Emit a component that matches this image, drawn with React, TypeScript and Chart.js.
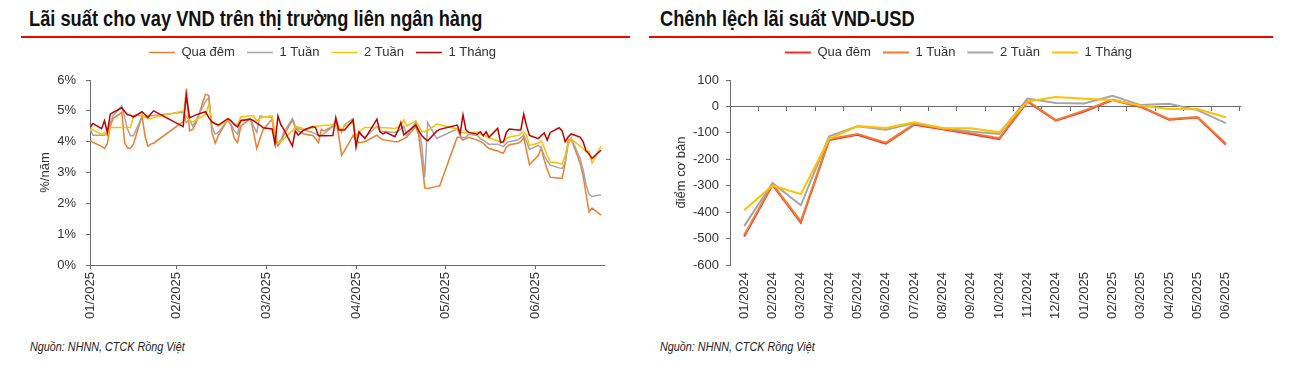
import React, { useEffect, useRef } from "react";
import { Chart, registerables } from "chart.js";

Chart.register(...registerables);

const FONT = "'Liberation Sans', Arial, Helvetica, sans-serif";
const TEXT = "#333333";
const AXIS = "#6b6b6b";

Chart.defaults.font.family = FONT;
Chart.defaults.font.size = 13;
Chart.defaults.color = TEXT;

// ---------- Left chart: interbank VND rates (2025, dd/mm) ----------
const tradingDays = [
  "02/01", "03/01", "06/01", "07/01", "08/01", "09/01", "10/01", "13/01", "14/01", "15/01", "16/01", "17/01", "20/01", "21/01", "22/01", "23/01", "24/01",
  "03/02", "04/02", "05/02", "06/02", "07/02", "10/02", "11/02", "12/02", "13/02", "14/02", "17/02", "18/02", "19/02", "20/02", "21/02", "24/02", "25/02", "26/02", "27/02", "28/02",
  "03/03", "04/03", "05/03", "06/03", "07/03", "10/03", "11/03", "12/03", "13/03", "14/03", "17/03", "18/03", "19/03", "20/03", "21/03", "24/03", "25/03", "26/03", "27/03", "28/03", "31/03",
  "01/04", "02/04", "03/04", "04/04", "08/04", "09/04", "10/04", "11/04", "14/04", "15/04", "16/04", "17/04", "18/04", "21/04", "22/04", "23/04", "24/04", "25/04", "28/04", "29/04",
  "05/05", "06/05", "07/05", "08/05", "09/05", "12/05", "13/05", "14/05", "15/05", "16/05", "19/05", "20/05", "21/05", "22/05", "23/05", "26/05", "27/05", "28/05", "29/05", "30/05",
  "02/06", "03/06", "04/06", "05/06", "06/06", "09/06", "10/06", "11/06", "12/06", "13/06", "16/06", "17/06", "18/06", "19/06", "20/06", "23/06",
];

const overnightRate = [
  4.03, 3.98, 3.85, 3.78, 3.94, 4.5, 4.75, 4.95, 3.95, 3.8, 3.78, 3.92, 4.84, 4.2, 3.85, 3.92, 3.95,
  4.65, 5.72, 4.35, 4.4, 4.6, 5.54, 5.5, 4.3, 3.95, 4.2, 4.73, 4.5, 4.1, 3.97, 4.5, 4.75, 4.3, 3.78, 4.1, 4.4,
  4.73, 4.1, 3.86, 4.0, 4.2, 4.7, 4.45, 4.35, 4.3, 4.25, 4.2, 4.1, 3.97, 4.4, 4.35, 4.5, 4.68, 4.2, 3.56, 3.7, 4.2,
  4.05, 3.97, 3.98, 4.0, 4.21, 4.12, 4.06, 4.05, 4.0, 4.0, 4.05, 4.1, 4.15, 4.5, 4.19, 3.4, 2.5, 2.48, 2.55, 2.57,
  4.14, 4.14, 4.05, 4.1, 4.14, 4.05, 4.0, 3.95, 3.85, 3.78, 3.7, 3.65, 3.63, 3.82, 3.9, 3.95, 4.0, 4.14, 3.7, 3.25,
  3.55, 3.8, 3.4, 3.1, 2.85, 2.81, 2.81, 3.3, 4.05, 4.1, 3.3, 2.9, 2.3, 1.72, 1.85, 1.62,
];

const oneWeekRate = [
  4.41, 4.21, 4.21, 4.21, 4.3, 4.6, 4.84, 5.16, 4.78, 4.4, 4.19, 4.19, 4.81, 4.82, 4.83, 4.84, 4.85,
  4.95, 4.62, 4.73, 4.5, 4.7, 5.3, 5.43, 4.5, 4.25, 4.3, 4.71, 4.55, 4.35, 4.24, 4.7, 4.75, 4.5, 4.3, 4.84, 4.82,
  4.78, 4.1, 3.97, 4.05, 4.3, 4.75, 4.5, 4.42, 4.4, 4.38, 4.3, 4.25, 4.2, 4.22, 4.26, 4.5, 4.68, 4.5, 4.3, 4.55, 4.75,
  3.97, 4.3, 4.2, 4.14, 4.5, 4.35, 4.33, 4.32, 4.3, 4.35, 4.4, 4.51, 4.19, 4.64, 4.35, 3.9, 2.84, 4.62, 4.1, 4.15,
  4.41, 4.2, 4.12, 4.15, 4.24, 4.2, 4.1, 4.05, 3.98, 3.92, 3.92, 3.88, 3.84, 3.95, 4.0, 4.06, 4.12, 4.22, 4.0, 3.75,
  3.88, 3.8, 3.55, 3.38, 3.24, 3.15, 3.13, 3.32, 3.9, 4.12, 3.45, 3.1, 2.6, 2.3, 2.22, 2.28,
];

const twoWeekRate = [
  4.48, 4.38, 4.24, 4.3, 4.19, 4.46, 4.46, 4.46, 4.46, 4.46, 4.46, 4.84, 4.86, 4.8, 4.76, 4.75, 4.78,
  5.0, 4.8, 4.7, 4.64, 4.7, 4.89, 5.2, 4.64, 4.6, 4.51, 4.71, 4.65, 4.58, 4.54, 4.8, 4.84, 4.84, 4.68, 4.75, 4.8,
  4.84, 4.3, 3.97, 4.0, 4.1, 4.35, 4.5, 4.48, 4.45, 4.4, 4.45, 4.5, 4.51, 4.52, 4.53, 4.55, 4.51, 4.45, 4.41, 4.5, 4.62,
  4.19, 4.3, 4.4, 4.46, 4.46, 4.46, 4.45, 4.45, 4.43, 4.47, 4.55, 4.71, 4.51, 4.68, 4.5, 4.33, 4.33, 4.36, 4.57, 4.55,
  4.41, 4.3, 4.3, 4.3, 4.3, 4.3, 4.25, 4.2, 4.18, 4.12, 4.03, 4.0, 3.98, 4.1, 4.15, 4.2, 4.25, 4.32, 4.2, 3.88,
  3.95, 4.03, 3.8, 3.55, 3.35, 3.3, 3.27, 3.55, 3.95, 4.1, 3.85, 3.78, 3.68, 3.7, 3.3, 3.86,
];

const oneMonthRate = [
  4.46, 4.59, 4.42, 4.68, 4.3, 4.89, 4.95, 5.1, 4.98, 4.87, 4.86, 4.8, 4.97, 4.88, 4.78, 4.9, 5.0,
  4.49, 5.49, 4.78, 4.82, 4.87, 4.97, 4.78, 4.64, 4.58, 4.54, 4.75, 4.68, 4.55, 4.48, 4.68, 4.73, 4.68, 4.6, 4.54, 4.45,
  4.41, 3.92, 4.84, 4.55, 4.4, 3.86, 4.35, 4.21, 4.3, 4.38, 4.49, 4.46, 4.19, 4.19, 4.19, 4.2, 4.78, 4.38, 4.38, 4.38, 4.7,
  3.82, 4.32, 4.2, 4.1, 4.73, 4.32, 4.25, 4.3, 4.16, 4.35, 4.62, 4.22, 4.3, 4.54, 4.35, 4.2, 4.1, 4.03, 4.34, 4.4,
  4.54, 4.27, 4.87, 4.38, 4.3, 4.24, 4.32, 4.19, 4.32, 4.14, 4.43, 3.97, 4.0, 4.3, 4.41, 4.38, 4.38, 4.89, 4.5, 4.2,
  4.1, 4.2, 4.28, 4.05, 4.3, 4.45, 4.35, 4.0, 4.15, 4.25, 4.15, 4.0, 3.7, 3.6, 3.46, 3.72,
];

const monthTickLabels = ["01/2025", "02/2025", "03/2025", "04/2025", "05/2025", "06/2025"];
const rateTickLabels = ["0%", "1%", "2%", "3%", "4%", "5%", "6%"];

// ---------- Right chart: VND-USD spread (basis points) ----------
const spreadMonths = [
  "01/2024", "02/2024", "03/2024", "04/2024", "05/2024", "06/2024", "07/2024", "08/2024", "09/2024",
  "10/2024", "11/2024", "12/2024", "01/2025", "02/2025", "03/2025", "04/2025", "05/2025", "06/2025",
];
const spreadOvernight = [-492, -297, -440, -127, -107, -141, -69, -86, -104, -124, 18, -54, -19, 24, -2, -50, -42, -144];
const spreadOneWeek = [-487, -294, -435, -124, -104, -137, -67, -84, -101, -120, 21, -52, -16, 26, 0, -48, -40, -140];
const spreadTwoWeek = [-453, -290, -374, -113, -75, -88, -63, -83, -95, -104, 30, 13, 11, 40, 5, 10, -14, -63];
const spreadOneMonth = [-393, -299, -332, -123, -74, -82, -60, -82, -83, -98, 19, 36, 29, 24, 3, -10, -10, -41];

const DAYS_IN_MONTH = [31, 28, 31, 30, 31, 30, 31, 31, 30, 31, 30, 31];
function dayToX(s: string): number {
  const [d, m] = s.split("/").map(Number);
  return m - 1 + (d - 1) / DAYS_IN_MONTH[m - 1];
}

// Adds room below the legend and nudges it sideways to sit like the original.
function makeLegendTweak(shiftX: number) {
  return {
    id: "legendTweak",
    beforeUpdate(chart: any) {
      const lg = chart.legend;
      if (lg && !lg.__gapPatched) {
        const fit = lg.fit;
        lg.fit = function () {
          fit.call(this);
          this.height += 11;
        };
        lg.__gapPatched = true;
      }
    },
    afterLayout(chart: any) {
      const lg = chart.legend;
      if (lg) {
        lg.left += shiftX;
        lg.right += shiftX;
      }
    },
  };
}

const legendOptions = {
  position: "top" as const,
  labels: {
    usePointStyle: true,
    pointStyle: "line",
    pointStyleWidth: 26,
    padding: 12,
    color: TEXT,
    font: { size: 13, family: FONT },
    sort: (a: any, b: any) => a.datasetIndex - b.datasetIndex,
  },
};

const CANVAS_H = 301;

function RatesChart() {
  const ref = useRef<HTMLCanvasElement | null>(null);
  useEffect(() => {
    if (!ref.current) return;
    const xs = tradingDays.map(dayToX);
    const mk = (label: string, vals: number[], color: string, order: number) => ({
      label,
      data: vals.map((v, i) => ({ x: xs[i], y: v })),
      borderColor: color,
      backgroundColor: color,
      borderWidth: 1.5,
      pointRadius: 0,
      tension: 0,
      order,
    });
    const xMin = xs[0];
    const xMax = dayToX("24/06");
    const chart = new Chart(ref.current, {
      type: "line",
      data: {
        datasets: [
          mk("Qua đêm", overnightRate, "#ED7D31", 4),
          mk("1 Tuần", oneWeekRate, "#A5A5A5", 3),
          mk("2 Tuần", twoWeekRate, "#FFC000", 2),
          mk("1 Tháng", oneMonthRate, "#C00000", 1),
        ],
      },
      options: {
        responsive: false,
        maintainAspectRatio: false,
        animation: false,
        layout: { padding: { left: 0, right: 26, top: 0, bottom: 0 } },
        plugins: {
          legend: legendOptions as any,
          tooltip: { enabled: false },
        },
        scales: {
          x: {
            type: "linear",
            min: xMin,
            max: xMax,
            afterBuildTicks: (s: any) => {
              s.ticks = [xMin, 1, 2, 3, 4, 5].map((v) => ({ value: v }));
            },
            afterFit: (s: any) => {
              s.height = 70;
            },
            grid: { display: true, drawOnChartArea: false, drawTicks: true, tickLength: 4, color: AXIS },
            border: { display: true, color: AXIS, width: 1 },
            ticks: {
              autoSkip: false,
              maxRotation: 90,
              minRotation: 90,
              padding: 3,
              color: TEXT,
              font: { size: 13 },
              callback: (_v: any, i: number) => monthTickLabels[i],
            },
          },
          y: {
            min: 0,
            max: 6,
            afterFit: (s: any) => {
              s.width = 69;
            },
            ticks: {
              stepSize: 1,
              padding: 10,
              color: TEXT,
              font: { size: 13 },
              callback: (v: any) => rateTickLabels[Math.round(Number(v))],
            },
            grid: { display: true, drawOnChartArea: false, drawTicks: true, tickLength: 4, color: AXIS },
            border: { display: true, color: AXIS, width: 1 },
            title: {
              display: true,
              text: "%/năm",
              color: TEXT,
              font: { size: 13 },
              padding: { top: 17, bottom: 0 },
            },
          },
        },
      },
      plugins: [makeLegendTweak(10)],
    });
    return () => chart.destroy();
  }, []);
  return <canvas ref={ref} width={609} height={CANVAS_H} style={{ display: "block" }} />;
}

function SpreadChart() {
  const ref = useRef<HTMLCanvasElement | null>(null);
  useEffect(() => {
    if (!ref.current) return;
    const mk = (label: string, vals: number[], color: string, order: number) => ({
      label,
      data: vals,
      borderColor: color,
      backgroundColor: color,
      borderWidth: 2,
      pointRadius: 0,
      tension: 0,
      order,
      xAxisID: "x",
      yAxisID: "y",
    });
    const chart = new Chart(ref.current, {
      type: "line",
      data: {
        labels: spreadMonths,
        datasets: [
          mk("Qua đêm", spreadOvernight, "#FF2A2A", 4),
          mk("1 Tuần", spreadOneWeek, "#ED7D31", 3),
          mk("2 Tuần", spreadTwoWeek, "#A5A5A5", 2),
          mk("1 Tháng", spreadOneMonth, "#FFC000", 1),
        ],
      },
      options: {
        responsive: false,
        maintainAspectRatio: false,
        animation: false,
        layout: { padding: { left: 0, right: 33, top: 0, bottom: 0 } },
        plugins: {
          legend: legendOptions as any,
          tooltip: { enabled: false },
        },
        scales: {
          x: {
            type: "category",
            offset: true,
            afterFit: (s: any) => {
              s.height = 70;
            },
            grid: { display: false, drawTicks: false },
            border: { display: false },
            ticks: {
              autoSkip: false,
              maxRotation: 90,
              minRotation: 90,
              padding: 7,
              color: TEXT,
              font: { size: 13 },
            },
          },
          x0: {
            type: "category",
            axis: "x",
            labels: spreadMonths,
            offset: true,
            position: { y: 0 } as any,
            grid: { offset: true, display: true, drawOnChartArea: false, drawTicks: true, tickLength: 4, color: AXIS },
            border: { display: true, color: AXIS, width: 1 },
            ticks: { display: false },
          } as any,
          y: {
            min: -600,
            max: 100,
            afterFit: (s: any) => {
              s.width = 81;
            },
            ticks: { stepSize: 100, padding: 7, color: TEXT, font: { size: 13 } },
            grid: { display: true, drawOnChartArea: false, drawTicks: true, tickLength: 4, color: AXIS },
            border: { display: true, color: AXIS, width: 1 },
            title: {
              display: true,
              text: "điểm cơ bản",
              color: TEXT,
              font: { size: 13 },
              padding: { top: 25, bottom: 0 },
            },
          },
        },
      },
      plugins: [makeLegendTweak(14)],
    });
    return () => chart.destroy();
  }, []);
  return <canvas ref={ref} width={624} height={CANVAS_H} style={{ display: "block" }} />;
}

const titleStyle: React.CSSProperties = {
  position: "absolute",
  top: 8,
  fontFamily: FONT,
  fontWeight: 700,
  fontSize: 22,
  lineHeight: "22px",
  color: "#111111",
  whiteSpace: "nowrap",
  transform: "scaleX(0.83)",
  transformOrigin: "left top",
};

const sourceStyle: React.CSSProperties = {
  position: "absolute",
  top: 341,
  fontFamily: FONT,
  fontStyle: "italic",
  fontSize: 12,
  lineHeight: "12px",
  color: "#222222",
  whiteSpace: "nowrap",
  transform: "scaleX(0.9)",
  transformOrigin: "left top",
};

export default function App() {
  return (
    <div style={{ position: "absolute", left: 0, top: 0, width: 1290, height: 375, background: "#ffffff", overflow: "hidden" }}>
      <div style={{ ...titleStyle, left: 29 }}>Lãi suất cho vay VND trên thị trường liên ngân hàng</div>
      <div style={{ position: "absolute", left: 21, top: 36, width: 609, height: 1.5, background: "#FF0000" }} />
      <div style={{ position: "absolute", left: 21, top: 34 }}>
        <RatesChart />
      </div>
      <div style={{ ...sourceStyle, left: 30 }}>Nguồn: NHNN, CTCK Rồng Việt</div>

      <div style={{ ...titleStyle, left: 660 }}>Chênh lệch lãi suất VND-USD</div>
      <div style={{ position: "absolute", left: 649, top: 36, width: 624, height: 1.5, background: "#FF0000" }} />
      <div style={{ position: "absolute", left: 649, top: 34 }}>
        <SpreadChart />
      </div>
      <div style={{ ...sourceStyle, left: 660 }}>Nguồn: NHNN, CTCK Rồng Việt</div>
    </div>
  );
}
